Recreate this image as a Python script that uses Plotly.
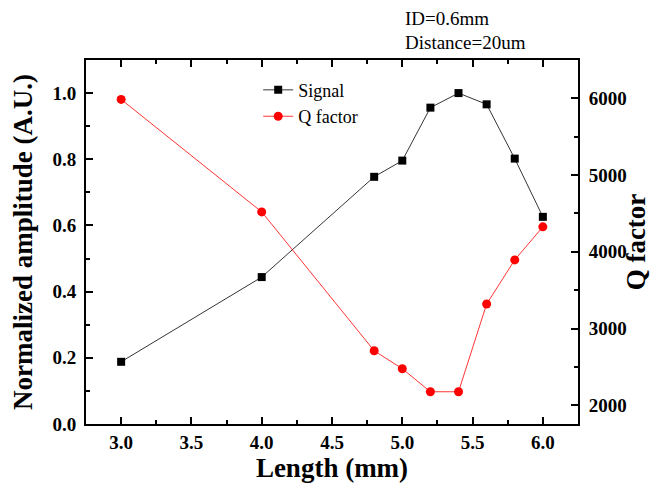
import plotly.graph_objects as go

length_mm = [3.0, 4.0, 4.8, 5.0, 5.2, 5.4, 5.6, 5.8, 6.0]
signal = [0.188, 0.444, 0.747, 0.796, 0.956, 1.0, 0.966, 0.802, 0.626]
q_factor = [5985, 4520, 2712, 2478, 2178, 2178, 3320, 3895, 4325]

x_ticks = [3.0, 3.5, 4.0, 4.5, 5.0, 5.5, 6.0]
y_ticks = [0.0, 0.2, 0.4, 0.6, 0.8, 1.0]
q_ticks = [2000, 3000, 4000, 5000, 6000]

FONT = "Liberation Serif"

fig = go.Figure()
fig.add_trace(go.Scatter(
    x=length_mm, y=signal, name="Signal", mode="lines+markers",
    line=dict(color="black", width=0.8),
    marker=dict(symbol="square", size=8, color="black"),
    yaxis="y"))
fig.add_trace(go.Scatter(
    x=length_mm, y=q_factor, name="Q factor", mode="lines+markers",
    line=dict(color="red", width=0.8),
    marker=dict(symbol="circle", size=9, color="red"),
    yaxis="y2"))

tickfont = dict(family=FONT, size=19, color="black")
titlefont = dict(family=FONT, size=27, color="black")

def bold(vals, fmt):
    return ["<b>" + fmt.format(v) + "</b>" for v in vals]

tick_common = dict(ticks="inside", ticklen=7, tickwidth=1.6, tickcolor="black",
                   showline=True, linewidth=2, linecolor="black", automargin=False,
                   showgrid=False, zeroline=False, tickfont=tickfont)

fig.update_layout(
    width=651, height=484,
    margin=dict(l=86, r=73, t=60, b=60),
    plot_bgcolor="white", paper_bgcolor="white",
    font=dict(family=FONT, color="black"),
    showlegend=True,
    legend=dict(x=0.35, y=0.968, xanchor="left", yanchor="top",
                bgcolor="rgba(0,0,0,0)", font=dict(family=FONT, size=18, color="black"),
                tracegroupgap=2),
    xaxis=dict(range=[2.75, 6.25], tickvals=x_ticks, ticktext=bold(x_ticks, "{:.1f}"),
               minor=dict(dtick=0.25, tick0=2.75, ticks="inside", ticklen=4, tickwidth=1.6, tickcolor="black"),
               mirror="ticks",
               title=dict(text="<b>Length (mm)</b>", font=titlefont, standoff=2),
               **tick_common),
    yaxis=dict(range=[0, 1.1], tickvals=y_ticks, ticktext=bold(y_ticks, "{:.1f}"),
               minor=dict(dtick=0.1, ticks="inside", ticklen=4, tickwidth=1.6, tickcolor="black"),
               ticklabelstandoff=4,
               title=dict(text="<b>Normalized amplitude (A.U.)</b>", font=titlefont, standoff=12),
               **tick_common),
    yaxis2=dict(range=[1758, 6498], overlaying="y", side="right",
                tickvals=q_ticks, ticktext=bold(q_ticks, "{:d}"),
                minor=dict(dtick=500, tick0=1500, ticks="inside", ticklen=4, tickwidth=1.6, tickcolor="black"),
                ticklabelstandoff=5,
                title=dict(text="<b>Q factor</b>", font=titlefont, standoff=2),
                **tick_common),
    annotations=[
        dict(text="ID=0.6mm", x=0.644, y=1.115, xref="paper", yref="paper",
             xanchor="left", yanchor="middle", showarrow=False,
             font=dict(family=FONT, size=19, color="black")),
        dict(text="Distance=20um", x=0.644, y=1.047, xref="paper", yref="paper",
             xanchor="left", yanchor="middle", showarrow=False,
             font=dict(family=FONT, size=19, color="black")),
    ],
)

fig.write_html("out.html")
